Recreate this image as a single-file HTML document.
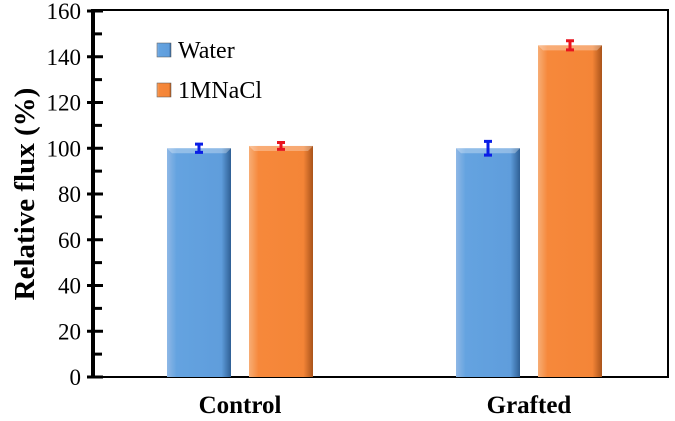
<!DOCTYPE html>
<html><head><meta charset="utf-8"><style>
body{margin:0;background:#fff;}
svg{display:block;}
text{font-family:"Liberation Serif","Times New Roman",Times,serif;}
</style></head><body>
<svg width="675" height="421">
<defs>
<linearGradient id="gb" x1="0" x2="1"><stop offset="0" stop-color="#8fb8e6"/><stop offset="0.15" stop-color="#64a3e0"/><stop offset="0.85" stop-color="#5f9ddc"/><stop offset="1" stop-color="#2e5f94"/></linearGradient>
<linearGradient id="go" x1="0" x2="1"><stop offset="0" stop-color="#f7ad75"/><stop offset="0.15" stop-color="#f6883b"/><stop offset="0.85" stop-color="#f48537"/><stop offset="1" stop-color="#a9531a"/></linearGradient>
</defs>
<g id="plot"></g>
</svg>
<script>
const categories=["Control","Grafted"];
const seriesNames=["Water","1MNaCl"];
const water=[100,100];
const waterErr=[1.8,3];
const nacl=[101,145];
const naclErr=[1.5,2];
const yTicks=[0,20,40,60,80,100,120,140,160];
const ns="http://www.w3.org/2000/svg";
const g=document.getElementById('plot');
const X0=93,X1=668,Y0=377,Y1=11;
const y=v=>Y0-(v/160)*(Y0-Y1);
const cx=[240,529];
function el(t,a,txt){const e=document.createElementNS(ns,t);for(const k in a)e.setAttribute(k,a[k]);if(t==='text')e.style.fontFamily='"Liberation Serif","Times New Roman",Times,serif';if(txt!==undefined)e.textContent=txt;g.appendChild(e);return e;}
const fr=el('rect',{x:X0,y:Y1-1,width:X1-X0,height:Y0-Y1+1,fill:'none',stroke:'#000','stroke-width':2});


const ax=el('line',{x1:X0,y1:Y1-2,x2:X0,y2:Y0+1,stroke:'#000','stroke-width':4});


const bx=el('line',{x1:X0,y1:Y0,x2:X1,y2:Y0,stroke:'#000','stroke-width':2});


yTicks.forEach((t,i)=>{
 const l=el('line',{x1:87,y1:y(t),x2:103,y2:y(t),stroke:'#000','stroke-width':3});
 
 
 const tx=el('text',{x:81,y:y(t)+8,'text-anchor':'end','font-size':23},t);
 
 
 if(i<yTicks.length-1){const m=el('line',{x1:93,y1:y(t+10),x2:102,y2:y(t+10),stroke:'#000','stroke-width':3});
 
 }
});
const yt=el('text',{x:0,y:0,transform:'translate(34,194) rotate(-90)','text-anchor':'middle','font-size':29,'font-weight':'bold'},'Relative flux (%)');


const W=64,gap=18;
function bar(xl,v,e,fill,ec,name){
 const top=y(v);
 const r=el('rect',{x:xl,y:top,width:W,height:Y0-top,fill:fill});
 
 
 el('path',{d:`M${xl} ${top}h${W}l-5 5h-${W-10}z`,fill:'#fff',opacity:0.3});
 const eb=el('path',{d:`M${xl+W/2} ${y(v+e)}V${y(v-e)}M${xl+W/2-4} ${y(v+e)}h8M${xl+W/2-4} ${y(v-e)}h8`,stroke:ec,'stroke-width':3,fill:'none'});
 
 
}
categories.forEach((c,i)=>{
 bar(cx[i]-gap/2-W,water[i],waterErr[i],'url(#gb)','#0a1ee6','bar-water-'+c.toLowerCase());
 bar(cx[i]+gap/2,nacl[i],naclErr[i],'url(#go)','#e8141e','bar-nacl-'+c.toLowerCase());
 const t=el('text',{x:cx[i],y:413,'text-anchor':'middle','font-size':25,'font-weight':'bold'},c);
 
 
});
[['url(#gb)',50],['url(#go)',90]].forEach((L,i)=>{
 const s=el('rect',{x:157,y:L[1]-7,width:14,height:14,fill:L[0],stroke:'#555','stroke-width':0.5});
 
 
 const t=el('text',{x:178,y:L[1]+8,'font-size':24},seriesNames[i]);
 
 
});
</script>
</body></html>
